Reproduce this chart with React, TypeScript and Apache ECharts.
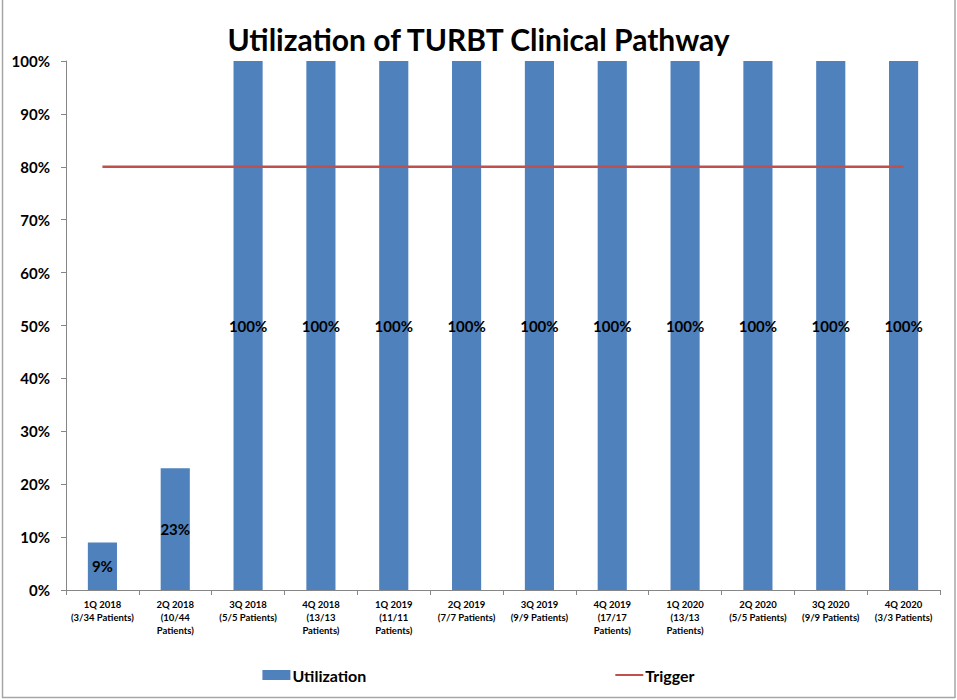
import React, { useEffect, useRef } from "react";
import * as echarts from "echarts";

const categories = [
  "1Q 2018\n(3/34 Patients)",
  "2Q 2018\n(10/44\nPatients)",
  "3Q 2018\n(5/5 Patients)",
  "4Q 2018\n(13/13\nPatients)",
  "1Q 2019\n(11/11\nPatients)",
  "2Q 2019\n(7/7 Patients)",
  "3Q 2019\n(9/9 Patients)",
  "4Q 2019\n(17/17\nPatients)",
  "1Q 2020\n(13/13\nPatients)",
  "2Q 2020\n(5/5 Patients)",
  "3Q 2020\n(9/9 Patients)",
  "4Q 2020\n(3/3 Patients)",
];
const utilization = [9, 23, 100, 100, 100, 100, 100, 100, 100, 100, 100, 100];
const trigger = [80, 80, 80, 80, 80, 80, 80, 80, 80, 80, 80, 80];
const yTicks = [0, 10, 20, 30, 40, 50, 60, 70, 80, 90, 100];

const FONT = "Lato, 'Open Sans', sans-serif";

export default function App() {
  const ref = useRef<HTMLDivElement>(null);
  useEffect(() => {
    document.body.style.margin = "0";
    if (!ref.current) return;
    const chart = echarts.init(ref.current, null, { renderer: "svg" });
    chart.setOption({
      animation: false,
      backgroundColor: "#ffffff",
      textStyle: { fontFamily: FONT },
      title: {
        text: "Utilization of TURBT Clinical Pathway",
        left: "center",
        top: 19,
        textStyle: { fontFamily: FONT, fontSize: 30, fontWeight: "bold", color: "#000" },
      },
      grid: { left: 66, right: 17, top: 61, bottom: 110, containLabel: false },
      legend: {
        bottom: 12,
        left: "center",
        itemGap: 248,
        itemWidth: 28,
        itemHeight: 10,
        textStyle: { fontFamily: FONT, fontSize: 16, fontWeight: "bold", color: "#000", padding: [0, 0, 0, -3] },
        data: [
          { name: "Utilization", icon: "rect" },
          { name: "Trigger", itemStyle: { opacity: 0 } },
        ],
      },
      xAxis: {
        type: "category",
        data: categories,
        boundaryGap: true,
        axisLine: { lineStyle: { color: "#868686", width: 1 } },
        axisTick: { show: true, length: 5, lineStyle: { color: "#868686" } },
        axisLabel: {
          interval: 0,
          margin: 8,
          fontFamily: FONT,
          fontSize: 9.5,
          fontWeight: "bold",
          color: "#000",
          lineHeight: 13,
        },
      },
      yAxis: {
        type: "value",
        min: 0,
        max: 100,
        interval: 10,
        axisLine: { show: true, lineStyle: { color: "#868686", width: 1 } },
        axisTick: { show: true, length: 5, lineStyle: { color: "#868686" } },
        splitLine: { show: false },
        axisLabel: {
          margin: 16,
          fontFamily: FONT,
          fontSize: 15,
          fontWeight: "bold",
          color: "#000",
          formatter: (v: number) => (yTicks.includes(v) ? v + "%" : ""),
        },
      },
      series: [
        {
          name: "Utilization",
          type: "bar",
          data: utilization,
          barWidth: "40%",
          itemStyle: { color: "#4F81BD" },
          label: {
            show: true,
            position: "inside",
            formatter: "{c}%",
            fontFamily: FONT,
            fontSize: 15,
            fontWeight: "bold",
            color: "#000",
          },
        },
        {
          name: "Trigger",
          type: "line",
          data: trigger,
          symbol: "none",
          lineStyle: { color: "#C0504D", width: 2.5 },
          itemStyle: { color: "#C0504D" },
        },
      ],
      graphic: [
        { type: "line", shape: { x1: 2.5, y1: 0, x2: 2.5, y2: 698 }, style: { stroke: "#A6A6A6", lineWidth: 1.5 } },
        { type: "line", shape: { x1: 955, y1: 0, x2: 955, y2: 698 }, style: { stroke: "#A6A6A6", lineWidth: 1.5 } },
        { type: "line", shape: { x1: 2, y1: 697.5, x2: 955, y2: 697.5 }, style: { stroke: "#A6A6A6", lineWidth: 1.5 } },
      ],
    });
    return () => chart.dispose();
  }, []);
  return <div ref={ref} style={{ width: 957, height: 700 }} />;
}
